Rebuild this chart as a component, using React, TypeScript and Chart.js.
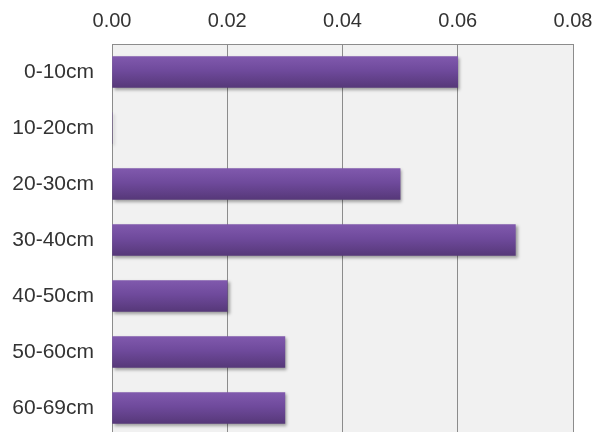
import React, { useEffect, useRef } from "react";
import { Chart, registerables } from "chart.js";

Chart.register(...registerables);

const categories = ["0-10cm", "10-20cm", "20-30cm", "30-40cm", "40-50cm", "50-60cm", "60-69cm"];
const values = [0.06, 0, 0.05, 0.07, 0.02, 0.03, 0.03];
const axisMin = 0;
const axisMax = 0.08;
const axisStep = 0.02;

const plotBg = {
  id: "plotBg",
  beforeDraw(chart: any) {
    const { ctx, chartArea } = chart;
    ctx.save();
    ctx.fillStyle = "#f1f1f1";
    ctx.fillRect(chartArea.left, chartArea.top, chartArea.right - chartArea.left, chartArea.bottom - chartArea.top);
    ctx.restore();
  },
};

const barShadow = {
  id: "barShadow",
  beforeDatasetsDraw(chart: any) {
    const ctx = chart.ctx;
    ctx.save();
    ctx.shadowColor = "rgba(0,0,0,0.35)";
    ctx.shadowOffsetX = 2;
    ctx.shadowOffsetY = 2;
    ctx.shadowBlur = 3;
  },
  afterDatasetsDraw(chart: any) {
    chart.ctx.restore();
  },
};

const BAR_T = 31;

export default function App() {
  const ref = useRef<HTMLCanvasElement | null>(null);
  useEffect(() => {
    if (!ref.current) return;
    const chart = new Chart(ref.current, {
      type: "bar",
      data: {
        labels: categories,
        datasets: [
          {
            data: values,
            barThickness: BAR_T,
            borderWidth: 0,
            backgroundColor: (c: any) => {
              const ys = c.chart.scales && c.chart.scales.y;
              if (!ys || c.dataIndex === undefined) return "#6d4899";
              const cy = ys.getPixelForValue(c.dataIndex);
              if (!Number.isFinite(cy)) return "#6d4899";
              const g = c.chart.ctx.createLinearGradient(0, cy - BAR_T / 2, 0, cy + BAR_T / 2);
              g.addColorStop(0, "#8059ad");
              g.addColorStop(0.45, "#6f4a9c");
              g.addColorStop(1, "#563879");
              return g;
            },
          },
        ],
      },
      options: {
        indexAxis: "y",
        responsive: true,
        maintainAspectRatio: false,
        animation: false,
        devicePixelRatio: 1,
        layout: { padding: { top: 0, right: 34, bottom: 1, left: 0 } },
        plugins: { legend: { display: false }, tooltip: { enabled: false } },
        scales: {
          x: {
            type: "linear",
            position: "top",
            min: axisMin,
            max: axisMax,
            afterFit: (s: any) => {
              s.height = 44;
              s.paddingLeft = 0;
              s.paddingRight = 0;
            },
            ticks: {
              stepSize: axisStep,
              padding: 11,
              color: "#333",
              font: { family: "'Liberation Sans', Arial, sans-serif", size: 20 },
              callback: (v: any) => Number(v).toFixed(2),
            },
            grid: { color: "#8c8c8c", lineWidth: 1, drawTicks: false },
            border: { display: true, color: "#8c8c8c", width: 1 },
          },
          y: {
            type: "category",
            afterFit: (s: any) => {
              s.width = 112;
              s.paddingTop = 0;
              s.paddingBottom = 0;
            },
            ticks: {
              padding: 18,
              color: "#333",
              font: { family: "'Liberation Sans', Arial, sans-serif", size: 21 },
            },
            grid: { display: false, drawTicks: false },
            border: { display: true, color: "#8c8c8c", width: 1 },
          },
        },
      },
      plugins: [plotBg, barShadow],
    } as any);
    return () => chart.destroy();
  }, []);
  return (
    <div style={{ position: "fixed", left: 0, top: 0, width: 607, height: 432, overflow: "hidden", background: "#fff" }}>
      <div style={{ position: "relative", width: 607, height: 437 }}>
        <canvas ref={ref} style={{ display: "block" }} />
      </div>
    </div>
  );
}
